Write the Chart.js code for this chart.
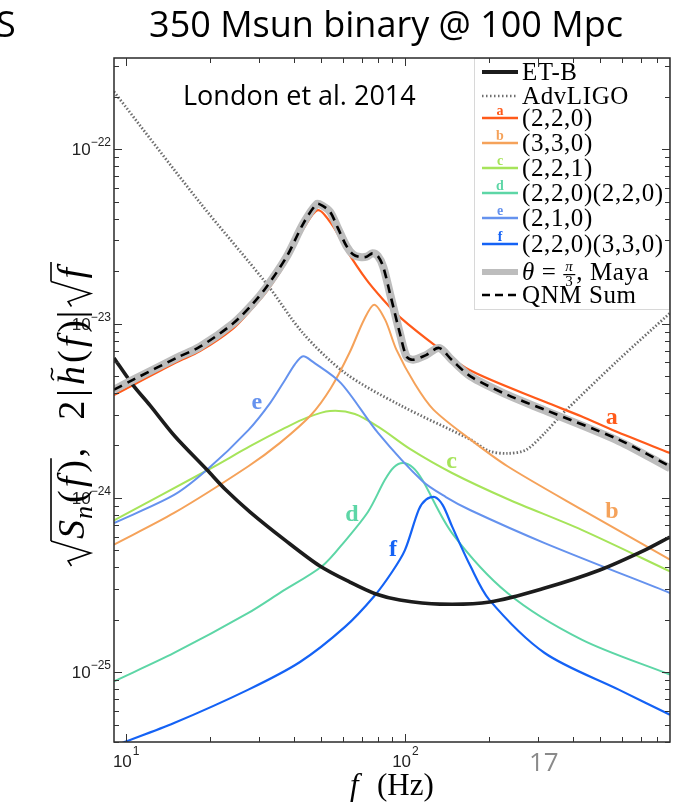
<!DOCTYPE html>
<html>
<head>
<meta charset="utf-8">
<script src="https://cdn.jsdelivr.net/npm/chart.js@4.4.0/dist/chart.umd.min.js"></script>
<style>
  html, body { margin: 0; padding: 0; background: #fff; }
  #wrap { width: 684px; height: 802px; position: relative; }
</style>
</head>
<body>
<div id="wrap"><canvas id="qnmChart"></canvas></div>
<script>
// values: frequency (Hz) and amplitude
const etbFreq = [9.08, 10.62, 12.2, 15.0, 19.55, 22.86, 27.9, 37.2, 49.6, 63.5, 78.7, 95.9, 133.4, 201.6, 317.2, 499, 723, 890];
const etbVals = [6.35e-24, 4.44e-24, 3.41e-24, 2.26e-24, 1.45e-24, 1.11e-24, 8.30e-25, 5.73e-25, 4.07e-25, 3.29e-25, 2.81e-25, 2.60e-25, 2.46e-25, 2.53e-25, 3.04e-25, 3.86e-25, 5.02e-25, 5.97e-25];

const ligoFreq = [9.08, 18.45, 32.0, 43.1, 61.0, 95.9, 171.8, 200, 233, 272, 317, 369, 583, 890];
const ligoVals = [2.14e-22, 4.94e-23, 1.69e-23, 8.83e-24, 5.21e-24, 3.41e-24, 2.16e-24, 1.86e-24, 1.80e-24, 1.89e-24, 2.36e-24, 3.07e-24, 6.21e-24, 1.15e-23];

const aFreq = [9.08, 15.2, 18.45, 24.28, 28.6, 31.98, 37.7, 43.3, 48.9, 55.4, 61.8, 72.9, 83.6, 95.9, 129.9, 171.8, 317, 430, 565, 890];
const aVals = [3.89e-24, 6.0e-24, 6.95e-24, 9.4e-24, 1.24e-23, 1.53e-23, 2.28e-23, 3.5e-23, 4.48e-23, 3.6e-23, 2.64e-23, 1.78e-23, 1.37e-23, 1.09e-23, 7.38e-24, 5.38e-24, 3.56e-24, 2.93e-24, 2.42e-24, 1.81e-24];

const bFreq = [9.08, 14.9, 27.5, 35.7, 46.1, 54.3, 63.5, 71.3, 77.6, 85.0, 93.2, 108.6, 126.5, 171.8, 233, 430, 890];
const bVals = [5.40e-25, 8.2e-25, 1.52e-24, 2.07e-24, 2.99e-24, 4.27e-24, 6.87e-24, 1.05e-23, 1.285e-23, 1.05e-23, 7.09e-24, 4.5e-24, 3.21e-24, 2.16e-24, 1.52e-24, 8.57e-25, 4.43e-25];

const cFreq = [9.08, 20.2, 27.9, 37.2, 44.6, 53.9, 66.2, 81.4, 104.2, 147.5, 233, 429.5, 890];
const cVals = [7.44e-25, 1.48e-24, 1.98e-24, 2.52e-24, 2.89e-24, 3.15e-24, 3.03e-24, 2.52e-24, 1.91e-24, 1.39e-24, 9.86e-25, 6.56e-25, 3.79e-25];

const dFreq = [9.08, 14.9, 27.5, 36.0, 50.6, 61.0, 73.7, 84.8, 91.3, 98.4, 107, 115.4, 147.5, 233, 429.5, 890];
const dVals = [8.87e-26, 1.29e-25, 2.19e-25, 2.88e-25, 4.07e-25, 5.66e-25, 8.3e-25, 1.27e-24, 1.50e-24, 1.585e-24, 1.49e-24, 1.27e-24, 6.29e-25, 2.85e-25, 1.54e-25, 9.69e-26];

const eFreq = [9.08, 14.9, 19.55, 27.5, 32.9, 37.2, 40.4, 43.2, 46.7, 59.0, 80.1, 115.4, 140.2, 171.8, 316.6, 890];
const eVals = [7.17e-25, 1.04e-24, 1.45e-24, 2.45e-24, 3.50e-24, 4.75e-24, 5.86e-24, 6.49e-24, 6.05e-24, 4.56e-24, 2.36e-24, 1.25e-24, 1.012e-24, 8.5e-25, 5.51e-25, 2.85e-25];

const fFreq = [9.72, 14.9, 27.5, 42.1, 61.0, 77.6, 89.9, 100, 112.1, 119, 127.8, 136.6, 147.5, 171.8, 200.3, 316.6, 583, 890];
const fVals = [3.93e-26, 5.11e-26, 7.95e-26, 1.145e-25, 1.82e-25, 2.73e-25, 3.76e-25, 5.02e-25, 8.57e-25, 9.78e-25, 1.013e-24, 9.1e-25, 6.87e-25, 4.05e-25, 2.61e-25, 1.29e-25, 7.95e-26, 5.71e-26];

const sumFreq = [9.08, 10.65, 15.2, 18.45, 24.28, 28.6, 31.98, 37.7, 43.3, 48.3, 50.6, 54.0, 57.5, 61.8, 65.3, 69.0, 72.9, 76.5, 80.0, 83.6, 88.4, 95.9, 101.4, 107, 119, 132.5, 147, 171.8, 233, 316.6, 583, 890];
const sumVals = [4.18e-24, 4.77e-24, 6.36e-24, 7.37e-24, 1.004e-23, 1.307e-23, 1.628e-23, 2.42e-23, 3.76e-23, 4.85e-23, 4.75e-23, 4.37e-23, 3.54e-23, 2.78e-23, 2.49e-23, 2.41e-23, 2.42e-23, 2.53e-23, 2.44e-23, 2.12e-23, 1.49e-23, 8.82e-24, 6.46e-24, 6.21e-24, 6.6e-24, 7.25e-24, 6.2e-24, 4.98e-24, 3.9e-24, 3.21e-24, 2.16e-24, 1.52e-24];
const mayaVals = [4.18e-24, 4.77e-24, 6.36e-24, 7.37e-24, 1.004e-23, 1.307e-23, 1.628e-23, 2.42e-23, 3.76e-23, 4.85e-23, 4.75e-23, 4.37e-23, 3.54e-23, 2.78e-23, 2.49e-23, 2.41e-23, 2.42e-23, 2.53e-23, 2.44e-23, 2.12e-23, 1.49e-23, 8.82e-24, 6.46e-24, 6.21e-24, 6.6e-24, 7.25e-24, 6.2e-24, 4.98e-24, 3.9e-24, 3.18e-24, 2.12e-24, 1.48e-24];

// curve letter tags: [letter, freq, value]
const tagPos = [['a', 551, 2.87e-24], ['b', 551, 8.3e-25], ['c', 147, 1.61e-24], ['d', 64.6, 7.98e-25], ['e', 29.5, 3.5e-24], ['f', 90.6, 5.02e-25]];

const xMajor = [10, 100];
const xMajorExp = ['1', '2'];
const yMajor = [1e-25, 1e-24, 1e-23, 1e-22];
const yMajorExp = ['\u221225', '\u221224', '\u221223', '\u221222'];

const xMin = 9.08, xMax = 890, yMin = 3.98e-26, yMax = 3.34e-22;

const colA = '#ff5a1a', colB = '#f5a25a', colC = '#a6e45a', colD = '#5dd6a6', colE = '#6592ee', colF = '#1462f5';

function pts(fs, vs) {
  return fs.map((f, i) => ({x: f, y: vs[i]}));
}

function minorTicks(majors, lo, hi) {
  const out = [];
  const decades = [majors[0] / 10].concat(majors);
  decades.forEach(d => {
    for (let k = 2; k <= 9; k++) {
      const v = d * k;
      if (v > lo && v < hi) out.push(v);
    }
  });
  return out;
}

const xMinor = minorTicks(xMajor, xMin, xMax);
const yMinor = minorTicks(yMajor, yMin, yMax);

function ds(label, tag, fs, vs, color, width, order, extra) {
  return Object.assign({
    label: label, tag: tag, data: pts(fs, vs), borderColor: color, backgroundColor: color,
    borderWidth: width, pointRadius: 0, fill: false, order: order, tension: 0.3
  }, extra || {});
}

const datasets = [
  ds('ET-B', '', etbFreq, etbVals, '#1c1c1c', 3.6, 3),
  ds('AdvLIGO', '', ligoFreq, ligoVals, '#6e6e6e', 2.8, 20, {borderDash: [1.5, 2]}),
  ds('(2,2,0)', 'a', aFreq, aVals, colA, 2.2, 9),
  ds('(3,3,0)', 'b', bFreq, bVals, colB, 2.0, 10),
  ds('(2,2,1)', 'c', cFreq, cVals, colC, 2.0, 11),
  ds('(2,2,0)(2,2,0)', 'd', dFreq, dVals, colD, 2.0, 8),
  ds('(2,1,0)', 'e', eFreq, eVals, colE, 2.0, 7),
  ds('(2,2,0)(3,3,0)', 'f', fFreq, fVals, colF, 2.2, 6),
  ds('Maya', '', sumFreq, mayaVals, '#bdbdbd', 8, 2),
  ds('QNM Sum', '', sumFreq, sumVals, '#000000', 2.6, 1, {borderDash: [9, 6]})
];

const SERIF = '"Liberation Serif", "Times New Roman", serif';
const SANS = '"Liberation Sans", Arial, sans-serif';

function put(ctx, text, font, x, y) {
  ctx.font = font;
  ctx.fillText(text, x, y);
  return x + ctx.measureText(text).width;
}

function radical(ctx, x, h) {
  ctx.beginPath();
  ctx.moveTo(x, -0.38 * h);
  ctx.lineTo(x + 5, -0.48 * h);
  ctx.lineTo(x + 13, 0.2 * h);
  ctx.lineTo(x + 25, -h);
  ctx.stroke();
  return x + 25;
}

function overline(ctx, x0, x1, y) {
  ctx.beginPath();
  ctx.moveTo(x0, y);
  ctx.lineTo(x1, y);
  ctx.stroke();
}

function drawYTitle(ctx) {
  ctx.save();
  ctx.translate(84, 566);
  ctx.rotate(-Math.PI / 2);
  ctx.fillStyle = '#000';
  ctx.strokeStyle = '#000';
  ctx.lineWidth = 1.6;
  ctx.textBaseline = 'alphabetic';
  const it = 'italic 38px ' + SERIF, rm = '38px ' + SERIF;
  let x = radical(ctx, 0, 33);
  const s0 = x;
  x = put(ctx, 'S', it, x + 2, 0);
  x = put(ctx, 'n', 'italic 26px ' + SERIF, x + 1, 8);
  x = put(ctx, '(', rm, x + 3, 0);
  x = put(ctx, 'f', it, x + 3, 0);
  x = put(ctx, ')', rm, x + 4, 0);
  overline(ctx, s0, x + 2, -33);
  x = put(ctx, ',', rm, x + 3, 0);
  x += 28;
  x = put(ctx, '2', rm, x, 0);
  x = put(ctx, '|', rm, x + 4, 0);
  const hx = x + 4;
  x = put(ctx, 'h', it, hx, 0);
  // tilde over h
  ctx.beginPath();
  ctx.moveTo(hx + 5, -30);
  ctx.bezierCurveTo(hx + 9, -37, hx + 13, -28, hx + 17, -33);
  ctx.stroke();
  x = put(ctx, '(', rm, x + 3, 0);
  x = put(ctx, 'f', it, x + 3, 0);
  x = put(ctx, ')', rm, x + 4, 0);
  x = put(ctx, '|', rm, x + 2, 0);
  x = radical(ctx, x + 4, 33);
  const s1 = x;
  x = put(ctx, 'f', it, x + 3, 0);
  overline(ctx, s1, x + 6, -33);
  ctx.restore();
}

const decorPlugin = {
  id: 'decor',
  afterDraw(chart) {
    const ctx = chart.ctx;
    const area = chart.chartArea;
    const xs = chart.scales.x, ys = chart.scales.y;
    ctx.save();

    // legend box
    const lgX = 474, lgY = area.top, lgW = area.right - 474, lgH = 252;
    ctx.fillStyle = '#fff';
    ctx.fillRect(lgX, lgY, lgW, lgH);
    ctx.strokeStyle = '#d8d8d8';
    ctx.lineWidth = 1;
    ctx.strokeRect(lgX + 0.5, lgY + 0.5, lgW - 1, lgH - 1);

    const rows = [72, 96, 118, 143, 168, 193, 218, 244, 272, 295];
    chart.data.datasets.forEach((d, i) => {
      const y = rows[i];
      ctx.save();
      ctx.strokeStyle = d.borderColor;
      ctx.lineWidth = d.label === 'Maya' ? 6 : (d.label === 'ET-B' ? 4 : 2.6);
      ctx.setLineDash(d.label === 'AdvLIGO' ? [1.5, 2.5] : (d.label === 'QNM Sum' ? [8, 5] : []));
      ctx.beginPath();
      ctx.moveTo(482, y);
      ctx.lineTo(518, y);
      ctx.stroke();
      ctx.restore();
      if (d.tag) {
        ctx.fillStyle = d.borderColor;
        ctx.font = 'bold 14px ' + SERIF;
        ctx.textAlign = 'center';
        ctx.textBaseline = 'alphabetic';
        ctx.fillText(d.tag, 500, y - 3);
      }
      ctx.fillStyle = '#000';
      ctx.textAlign = 'left';
      ctx.textBaseline = 'alphabetic';
      ctx.letterSpacing = '0.6px';
      if (d.label === 'Maya') {
        let x = put(ctx, '\u03b8', 'italic 25px ' + SERIF, 522, y + 8);
        x = put(ctx, ' = ', '25px ' + SERIF, x, y + 8);
        ctx.font = 'italic 15px ' + SERIF;
        ctx.textAlign = 'center';
        ctx.fillText('\u03c0', x + 6, y - 1);
        ctx.font = '15px ' + SERIF;
        ctx.fillText('3', x + 6, y + 14);
        ctx.fillRect(x, y + 2, 12, 1.2);
        ctx.textAlign = 'left';
        put(ctx, ', Maya', '25px ' + SERIF, x + 13, y + 8);
      } else {
        put(ctx, d.label, '25px ' + SERIF, 522, y + 8);
      }
      ctx.letterSpacing = '0px';
    });

    // frame
    ctx.strokeStyle = '#2a2a2a';
    ctx.lineWidth = 1.5;
    ctx.strokeRect(area.left, area.top, area.right - area.left, area.bottom - area.top);

    // inward ticks on all sides
    ctx.lineWidth = 1;
    ctx.strokeStyle = '#333';
    const tick = (len, vals, scale, horizontal) => {
      vals.forEach(v => {
        const p = Math.round(scale.getPixelForValue(v)) + 0.5;
        ctx.beginPath();
        if (horizontal) {
          ctx.moveTo(p, area.bottom); ctx.lineTo(p, area.bottom - len);
          ctx.moveTo(p, area.top); ctx.lineTo(p, area.top + len);
        } else {
          ctx.moveTo(area.left, p); ctx.lineTo(area.left + len, p);
          ctx.moveTo(area.right, p); ctx.lineTo(area.right - len, p);
        }
        ctx.stroke();
      });
    };
    tick(8, xMajor, xs, true);
    tick(5, xMinor, xs, true);
    tick(8, yMajor, ys, false);
    tick(5, yMinor, ys, false);

    // tick labels
    ctx.fillStyle = '#222';
    ctx.textBaseline = 'alphabetic';
    ctx.textAlign = 'left';
    xMajor.forEach((v, i) => {
      const p = xs.getPixelForValue(v);
      ctx.font = '17px ' + SANS;
      const w1 = ctx.measureText('10').width;
      ctx.font = '12px ' + SANS;
      const w2 = ctx.measureText(xMajorExp[i]).width;
      const x0 = p - (w1 + w2) / 2;
      put(ctx, '10', '17px ' + SANS, x0, 767);
      put(ctx, xMajorExp[i], '12px ' + SANS, x0 + w1 + 1, 755);
    });
    yMajor.forEach((v, i) => {
      const p = ys.getPixelForValue(v);
      ctx.font = '12px ' + SANS;
      const w2 = ctx.measureText(yMajorExp[i]).width;
      ctx.font = '17px ' + SANS;
      const w1 = ctx.measureText('10').width;
      const x0 = 111 - w2 - w1;
      put(ctx, '10', '17px ' + SANS, x0, p + 6);
      put(ctx, yMajorExp[i], '12px ' + SANS, x0 + w1, p - 3);
    });

    // curve tags
    ctx.textAlign = 'center';
    ctx.textBaseline = 'middle';
    ctx.font = 'bold 24px ' + SERIF;
    const tagCol = {a: colA, b: colB, c: colC, d: colD, e: colE, f: colF};
    tagPos.forEach(t => {
      ctx.fillStyle = tagCol[t[0]];
      ctx.fillText(t[0], xs.getPixelForValue(t[1]), ys.getPixelForValue(t[2]));
    });

    // titles and slide text
    ctx.textBaseline = 'alphabetic';
    ctx.fillStyle = '#000';
    ctx.font = '36px "Open Sans", sans-serif';
    ctx.textAlign = 'center';
    ctx.fillText('350 Msun binary @ 100 Mpc', 386, 37);
    ctx.textAlign = 'left';
    ctx.fillText('S', -4, 37);
    ctx.font = '27px "Open Sans", sans-serif';
    ctx.fillText('London et al. 2014', 183, 105);
    ctx.fillStyle = '#8a8a8a';
    ctx.font = '26px "Open Sans", sans-serif';
    ctx.fillText('17', 529, 771);

    // x axis title
    ctx.fillStyle = '#000';
    put(ctx, 'f', 'italic 31px ' + SERIF, 350, 795);
    put(ctx, '(Hz)', '31px ' + SERIF, 377, 795);

    drawYTitle(ctx);
    ctx.restore();
  }
};

new Chart(document.getElementById('qnmChart').getContext('2d'), {
  type: 'line',
  data: {datasets: datasets},
  options: {
    responsive: true,
    maintainAspectRatio: false,
    animation: false,
    devicePixelRatio: 1,
    layout: {padding: {top: 58, right: 14, bottom: 0, left: 0}},
    plugins: {legend: {display: false}, title: {display: false}, tooltip: {enabled: false}},
    scales: {
      x: {
        type: 'logarithmic', min: xMin, max: xMax,
        grid: {display: false}, border: {display: false}, ticks: {display: false},
        afterFit: (s) => { s.height = 60; }
      },
      y: {
        type: 'logarithmic', min: yMin, max: yMax,
        grid: {display: false}, border: {display: false}, ticks: {display: false},
        afterFit: (s) => { s.width = 114; }
      }
    }
  },
  plugins: [decorPlugin]
});
</script>
</body>
</html>
